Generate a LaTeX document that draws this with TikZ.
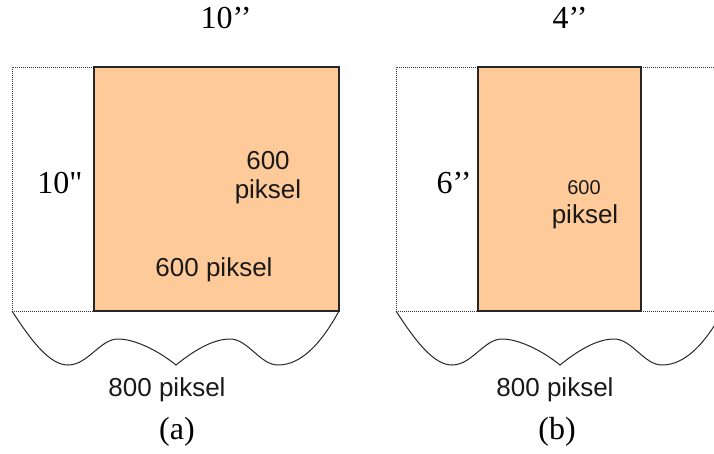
\documentclass[tikz,border=0pt]{standalone}
\usepackage{fontspec}
\setmainfont{Liberation Serif}
\setsansfont{Liberation Sans}
\newfontfamily\rawserif{Liberation Serif}
\definecolor{peach}{RGB}{255,202,153}
\begin{document}
\begin{tikzpicture}[x=1pt,y=-1pt,
  paper/.style={fill=peach, draw=black!85, line width=1.3pt},
  guide/.style={draw=black!80, line width=0.9pt, dash pattern=on 0.9pt off 1.1pt},
  wave/.style={draw=black!85, line width=1pt},
  dimlabel/.style={font=\fontsize{32}{35}\selectfont, inner sep=0pt},
  pxlabel/.style={font=\sffamily\fontsize{26}{29}\selectfont, align=center, inner sep=0pt, text=black!90},
  pxsmall/.style={font=\sffamily\fontsize{20}{24}\selectfont, inner sep=0pt, text=black!90}]
\useasboundingbox (0,0) rectangle (714,454);
\begin{scope}
\clip (0,0) rectangle (714,454);
% panel (a)
\path[guide] (94,67) -- (12,67) -- (12,311) -- (94,311);
\path[paper] (94,67) rectangle (339,311);
\path[wave] (12,311) .. controls (32,342) and (50,365) .. (68,365)
  .. controls (88,365) and (100,339) .. (118,339)
  .. controls (136,339) and (160,352) .. (176,365)
  .. controls (192,352) and (212,339) .. (230,339)
  .. controls (248,339) and (260,365) .. (278,365)
  .. controls (302,365) and (322,342) .. (339,311);
% panel (b)
\begin{scope}[xshift=384pt]
\path[guide] (94,67) -- (12,67) -- (12,311) -- (94,311);
\path[guide] (257,67) -- (340,67);
\path[guide] (257,311) -- (340,311);
\path[paper] (94,67) rectangle (257,311);
\path[wave] (12,311) .. controls (32,342) and (50,365) .. (68,365)
  .. controls (88,365) and (100,339) .. (118,339)
  .. controls (136,339) and (160,352) .. (176,365)
  .. controls (192,352) and (212,339) .. (230,339)
  .. controls (248,339) and (260,365) .. (278,365)
  .. controls (302,365) and (322,342) .. (339,311);
\end{scope}
\end{scope}
% labels (a)
\node[dimlabel] (topa) at (226,18) {10’’};
\node[dimlabel] (lefta) at (60,183) {\rawserif 10"};
\node[pxlabel] (vpxa) at (268,178) {600\\piksel};
\node[pxlabel] (hpxa) at (214,270) {600 piksel};
\node[pxlabel] (wpxa) at (167,390) {800 piksel};
\node[dimlabel] (capa) at (177,432) {(a)};
% labels (b)
\node[dimlabel] (topb) at (570,18) {4’’};
\node[dimlabel] (leftb) at (454,183) {6’’};
\node[pxsmall] (vpxb600) at (584,188) {600};
\node[pxlabel] (vpxb) at (585,217) {piksel};
\node[pxlabel] (wpxb) at (555,390) {800 piksel};
\node[dimlabel] (capb) at (557,432) {(b)};
\end{tikzpicture}
\end{document}
